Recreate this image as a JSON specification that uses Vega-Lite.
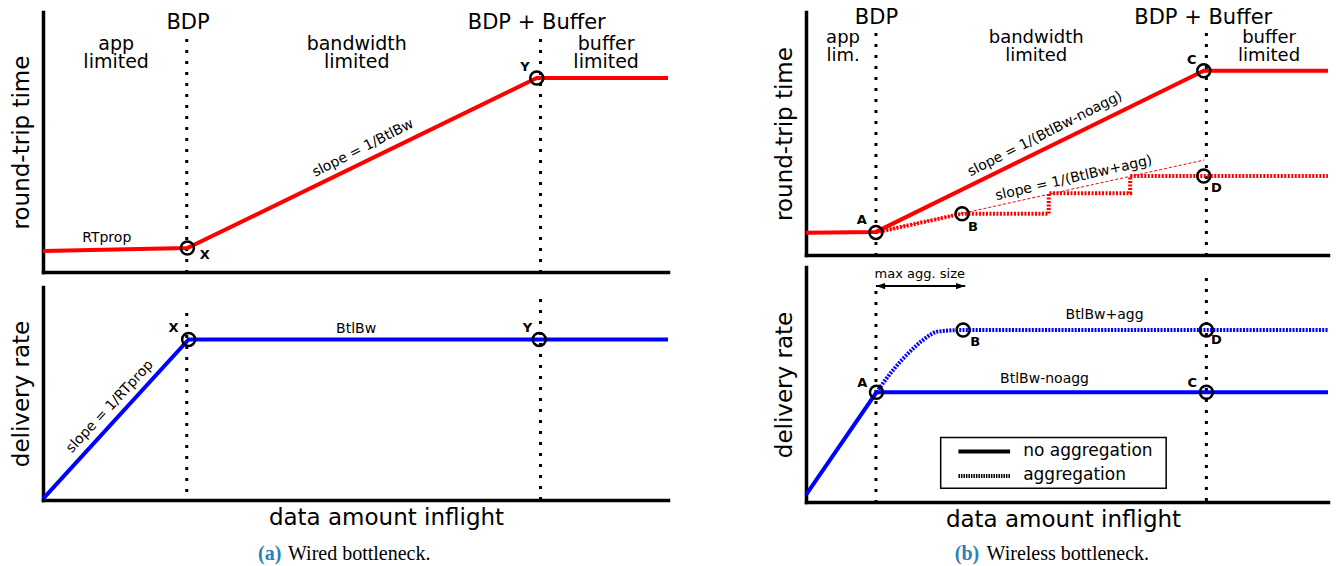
{
  "$schema": "https://vega.github.io/schema/vega-lite/v6.json",
  "padding": {"left": 10, "top": 6, "right": 5, "bottom": 0},
  "background": "white",
  "spacing": 97,
  "config": {
    "view": {"stroke": null},
    "axis": {"domainColor": "black", "domainWidth": 3.5, "domainCap": "square", "ticks": false, "labels": false, "grid": false, "titleFont": "DejaVu Sans", "titleFontSize": 23, "titleFontWeight": "normal", "titleColor": "black"},
    "axisX": {"titlePadding": 6},
    "axisY": {"titlePadding": 10},
    "text": {"font": "DejaVu Sans", "color": "black"}
  },
  "hconcat": [
    {
      "bounds": "flush",
      "spacing": 15,
      "vconcat": [
        {
          "width": 625, "height": 260,
          "encoding": {
            "x": {"field": "x", "type": "quantitative", "scale": {"domain": [0, 100], "nice": false}, "axis": {"title": null}},
            "y": {"field": "y", "type": "quantitative", "scale": {"domain": [0, 100], "nice": false}, "axis": {"title": "round-trip time"}}
          },
          "layer": [
            {"data": {"values": [{"x": 23.0, "y": 89.6, "y2": 0}, {"x": 79.6, "y": 89.6, "y2": 0}]},
             "mark": {"type": "rule", "color": "black", "strokeWidth": 3, "strokeDash": [3, 8]},
             "encoding": {"y2": {"field": "y2"}}},
            {"data": {"values": [{"x": 0, "y": 8.1, "o": 1}, {"x": 23.1, "y": 9.2, "o": 2}, {"x": 79.0, "y": 74.6, "o": 3}, {"x": 100, "y": 74.6, "o": 4}]},
             "mark": {"type": "line", "color": "#ff0000", "strokeWidth": 4},
             "encoding": {"order": {"field": "o"}}},
            {"data": {"values": [{"x": 23.1, "y": 9.2}, {"x": 79.0, "y": 74.6}]},
             "mark": {"type": "point", "shape": "circle", "size": 169, "filled": false, "color": "black", "strokeWidth": 2.5, "opacity": 1}},
            {"data": {"values": [{"x": 25.9, "y": 6.5, "t": "X"}, {"x": 77.1, "y": 79.0, "t": "Y"}]},
             "mark": {"type": "text", "fontWeight": "bold", "fontSize": 13, "baseline": "middle", "align": "center"},
             "encoding": {"text": {"field": "t"}}},
            {"data": {"values": [{"x": 23.2, "y": 93.3, "t": "BDP"}, {"x": 79.0, "y": 93.3, "t": "BDP + Buffer"}]},
             "mark": {"type": "text", "fontSize": 21, "baseline": "alphabetic", "align": "center"},
             "encoding": {"text": {"field": "t"}}},
            {"data": {"values": [{"x": 11.7, "y": 85.4, "t": "app"}, {"x": 11.7, "y": 78.3, "t": "limited"}, {"x": 50.2, "y": 85.4, "t": "bandwidth"}, {"x": 50.2, "y": 78.3, "t": "limited"}, {"x": 90.1, "y": 85.4, "t": "buffer"}, {"x": 90.1, "y": 78.3, "t": "limited"}]},
             "mark": {"type": "text", "fontSize": 19, "baseline": "alphabetic", "align": "center"},
             "encoding": {"text": {"field": "t"}}},
            {"data": {"values": [{"x": 10.2, "y": 13.0, "t": "RTprop"}]},
             "mark": {"type": "text", "fontSize": 14, "baseline": "middle", "align": "center"},
             "encoding": {"text": {"field": "t"}}},
            {"data": {"values": [{"x": 51.2, "y": 47.6, "t": "slope = 1/BtlBw"}]},
             "mark": {"type": "text", "fontSize": 14, "baseline": "middle", "align": "center", "angle": 333},
             "encoding": {"text": {"field": "t"}}}
          ]
        },
        {
          "width": 625, "height": 213,
          "encoding": {
            "x": {"field": "x", "type": "quantitative", "scale": {"domain": [0, 100], "nice": false}, "axis": {"title": "data amount inflight", "titleX": 343}},
            "y": {"field": "y", "type": "quantitative", "scale": {"domain": [0, 100], "nice": false}, "axis": {"title": "delivery rate"}}
          },
          "layer": [
            {"data": {"values": [{"x": 23.0, "y": 87.8, "y2": 0}, {"x": 79.6, "y": 94.4, "y2": 0}]},
             "mark": {"type": "rule", "color": "black", "strokeWidth": 3, "strokeDash": [3, 8]},
             "encoding": {"y2": {"field": "y2"}}},
            {"data": {"values": [{"x": 0, "y": 0.5, "o": 1}, {"x": 23.3, "y": 75.4, "o": 2}, {"x": 100, "y": 75.4, "o": 3}]},
             "mark": {"type": "line", "color": "#0000ff", "strokeWidth": 4},
             "encoding": {"order": {"field": "o"}}},
            {"data": {"values": [{"x": 23.3, "y": 75.4}, {"x": 79.4, "y": 75.4}]},
             "mark": {"type": "point", "shape": "circle", "size": 169, "filled": false, "color": "black", "strokeWidth": 2.5, "opacity": 1}},
            {"data": {"values": [{"x": 20.9, "y": 80.6, "t": "X"}, {"x": 77.5, "y": 80.6, "t": "Y"}]},
             "mark": {"type": "text", "fontWeight": "bold", "fontSize": 13, "baseline": "middle", "align": "center"},
             "encoding": {"text": {"field": "t"}}},
            {"data": {"values": [{"x": 50.1, "y": 80.1, "t": "BtlBw"}]},
             "mark": {"type": "text", "fontSize": 14, "baseline": "middle", "align": "center"},
             "encoding": {"text": {"field": "t"}}},
            {"data": {"values": [{"x": 10.7, "y": 43.8, "t": "slope = 1/RTprop"}]},
             "mark": {"type": "text", "fontSize": 14, "baseline": "middle", "align": "center", "angle": 313},
             "encoding": {"text": {"field": "t"}}},
            {"data": {"values": [{"x": 34.4, "y": -28.2, "t": "(a)"}]},
             "mark": {"type": "text", "font": "Liberation Serif", "fontWeight": "bold", "fontSize": 20, "color": "#2E7FB8", "baseline": "alphabetic", "align": "left"},
             "encoding": {"text": {"field": "t"}}},
            {"data": {"values": [{"x": 39.2, "y": -28.2, "t": "Wired bottleneck."}]},
             "mark": {"type": "text", "font": "Liberation Serif", "fontSize": 20, "color": "black", "baseline": "alphabetic", "align": "left"},
             "encoding": {"text": {"field": "t"}}}
          ]
        }
      ]
    },
    {
      "bounds": "flush",
      "spacing": 12,
      "vconcat": [
        {
          "width": 522, "height": 243,
          "encoding": {
            "x": {"field": "x", "type": "quantitative", "scale": {"domain": [0, 100], "nice": false}, "axis": {"title": null}},
            "y": {"field": "y", "type": "quantitative", "scale": {"domain": [0, 100], "nice": false}, "axis": {"title": "round-trip time"}}
          },
          "layer": [
            {"data": {"values": [{"x": 13.4, "y": 91.4, "y2": 0}, {"x": 76.7, "y": 91.4, "y2": 0}]},
             "mark": {"type": "rule", "color": "black", "strokeWidth": 3, "strokeDash": [3, 8]},
             "encoding": {"y2": {"field": "y2"}}},
            {"data": {"values": [{"x": 13.4, "y": 9.3, "o": 1}, {"x": 76.3, "y": 39.1, "o": 2}]},
             "mark": {"type": "line", "color": "#ff0000", "strokeWidth": 1, "strokeDash": [3, 2]},
             "encoding": {"order": {"field": "o"}}},
            {"data": {"values": [{"x": 13.4, "y": 9.3, "o": 1}, {"x": 29.9, "y": 17.0, "o": 2}, {"x": 46.5, "y": 17.0, "o": 3}, {"x": 46.5, "y": 25.4, "o": 4}, {"x": 62.1, "y": 25.4, "o": 5}, {"x": 62.1, "y": 32.5, "o": 6}, {"x": 100, "y": 32.5, "o": 7}]},
             "mark": {"type": "line", "color": "#ff0000", "strokeWidth": 4, "strokeDash": [2, 1.5]},
             "encoding": {"order": {"field": "o"}}},
            {"data": {"values": [{"x": 0, "y": 9.2, "o": 1}, {"x": 13.4, "y": 9.5, "o": 2}, {"x": 76.2, "y": 75.8, "o": 3}, {"x": 100, "y": 75.8, "o": 4}]},
             "mark": {"type": "line", "color": "#ff0000", "strokeWidth": 4},
             "encoding": {"order": {"field": "o"}}},
            {"data": {"values": [{"x": 13.4, "y": 9.3}, {"x": 29.9, "y": 17.0}, {"x": 76.2, "y": 75.8}, {"x": 76.2, "y": 32.5}]},
             "mark": {"type": "point", "shape": "circle", "size": 169, "filled": false, "color": "black", "strokeWidth": 2.5, "opacity": 1}},
            {"data": {"values": [{"x": 10.7, "y": 14.4, "t": "A"}, {"x": 32.0, "y": 11.7, "t": "B"}, {"x": 73.9, "y": 80.2, "t": "C"}, {"x": 78.6, "y": 27.4, "t": "D"}]},
             "mark": {"type": "text", "fontWeight": "bold", "fontSize": 13, "baseline": "middle", "align": "center"},
             "encoding": {"text": {"field": "t"}}},
            {"data": {"values": [{"x": 13.5, "y": 95.1, "t": "BDP"}, {"x": 76.1, "y": 95.1, "t": "BDP + Buffer"}]},
             "mark": {"type": "text", "fontSize": 21, "baseline": "alphabetic", "align": "center"},
             "encoding": {"text": {"field": "t"}}},
            {"data": {"values": [{"x": 7.1, "y": 87.4, "t": "app"}, {"x": 7.1, "y": 80.0, "t": "lim."}, {"x": 44.1, "y": 87.4, "t": "bandwidth"}, {"x": 44.1, "y": 80.0, "t": "limited"}, {"x": 88.7, "y": 87.4, "t": "buffer"}, {"x": 88.7, "y": 80.0, "t": "limited"}]},
             "mark": {"type": "text", "fontSize": 18, "baseline": "alphabetic", "align": "center"},
             "encoding": {"text": {"field": "t"}}},
            {"data": {"values": [{"x": 45.8, "y": 49.8, "t": "slope = 1/(BtlBw-noagg)"}]},
             "mark": {"type": "text", "fontSize": 14, "baseline": "middle", "align": "center", "angle": 333},
             "encoding": {"text": {"field": "t"}}},
            {"data": {"values": [{"x": 51.3, "y": 31.6, "t": "slope = 1/(BtlBw+agg)"}]},
             "mark": {"type": "text", "fontSize": 14, "baseline": "middle", "align": "center", "angle": 347},
             "encoding": {"text": {"field": "t"}}}
          ]
        },
        {
          "width": 522, "height": 235,
          "encoding": {
            "x": {"field": "x", "type": "quantitative", "scale": {"domain": [0, 100], "nice": false}, "axis": {"title": "data amount inflight", "titleX": 257}},
            "y": {"field": "y", "type": "quantitative", "scale": {"domain": [0, 100], "nice": false}, "axis": {"title": "delivery rate"}}
          },
          "layer": [
            {"data": {"values": [{"x": 13.4, "y": 89.8, "y2": 0}, {"x": 76.7, "y": 95.3, "y2": 0}]},
             "mark": {"type": "rule", "color": "black", "strokeWidth": 3, "strokeDash": [3, 8]},
             "encoding": {"y2": {"field": "y2"}}},
            {"data": {"values": [{"x": 25.8, "x2": 69.0, "y": 27.4, "y2": 5.9}]},
             "mark": {"type": "rect", "fill": "white", "stroke": "black", "strokeWidth": 1.5},
             "encoding": {"x2": {"field": "x2"}, "y2": {"field": "y2"}}},
            {"data": {"values": [{"x": 29.2, "x2": 39.1, "y": 21.5}]},
             "mark": {"type": "rule", "color": "black", "strokeWidth": 4},
             "encoding": {"x2": {"field": "x2"}}},
            {"data": {"values": [{"x": 29.2, "x2": 39.1, "y": 11.1}]},
             "mark": {"type": "rule", "color": "black", "strokeWidth": 4, "strokeDash": [1.5, 1]},
             "encoding": {"x2": {"field": "x2"}}},
            {"data": {"values": [{"x": 41.6, "y": 19.4, "t": "no aggregation"}, {"x": 41.6, "y": 9.4, "t": "aggregation"}]},
             "mark": {"type": "text", "fontSize": 17, "baseline": "alphabetic", "align": "left"},
             "encoding": {"text": {"field": "t"}}},
            {"data": {"values": [{"x": 0, "y": 3.0, "o": 1}, {"x": 13.5, "y": 46.7, "o": 2}, {"x": 100, "y": 46.7, "o": 3}]},
             "mark": {"type": "line", "color": "#0000ff", "strokeWidth": 4},
             "encoding": {"order": {"field": "o"}}},
            {"data": {"values": [{"x": 13.5, "y": 46.7, "o": 1}, {"x": 16.7, "y": 56.2, "o": 2}, {"x": 19.6, "y": 63.3, "o": 3}, {"x": 22.4, "y": 68.9, "o": 4}, {"x": 25.2, "y": 72.5, "o": 5}, {"x": 30.1, "y": 73.2, "o": 6}, {"x": 100, "y": 73.2, "o": 7}]},
             "mark": {"type": "line", "color": "#0000ff", "strokeWidth": 4, "strokeDash": [2, 1.3], "interpolate": "monotone"},
             "encoding": {"order": {"field": "o"}}},
            {"data": {"values": [{"x": 13.5, "y": 46.7}, {"x": 30.1, "y": 73.2}, {"x": 76.7, "y": 73.2}, {"x": 76.7, "y": 46.7}]},
             "mark": {"type": "point", "shape": "circle", "size": 169, "filled": false, "color": "black", "strokeWidth": 2.5, "opacity": 1}},
            {"data": {"values": [{"x": 10.8, "y": 50.5, "t": "A"}, {"x": 32.4, "y": 68.2, "t": "B"}, {"x": 74.0, "y": 50.8, "t": "C"}, {"x": 78.6, "y": 68.9, "t": "D"}]},
             "mark": {"type": "text", "fontWeight": "bold", "fontSize": 13, "baseline": "middle", "align": "center"},
             "encoding": {"text": {"field": "t"}}},
            {"data": {"values": [{"x": 57.2, "y": 79.6, "t": "BtlBw+agg"}, {"x": 45.7, "y": 52.2, "t": "BtlBw-noagg"}]},
             "mark": {"type": "text", "fontSize": 14, "baseline": "middle", "align": "center"},
             "encoding": {"text": {"field": "t"}}},
            {"data": {"values": [{"x": 21.8, "y": 95.2, "t": "max agg. size"}]},
             "mark": {"type": "text", "fontSize": 13, "baseline": "alphabetic", "align": "center"},
             "encoding": {"text": {"field": "t"}}},
            {"data": {"values": [{"x": 13.4, "x2": 30.5, "y": 91.9}]},
             "mark": {"type": "rule", "color": "black", "strokeWidth": 2},
             "encoding": {"x2": {"field": "x2"}}},
            {"data": {"values": [{"x": 29.6, "y": 91.9}]},
             "mark": {"type": "point", "shape": "M1,0L-1,-0.7L-1,0.7Z", "size": 81, "filled": true, "color": "black", "opacity": 1}},
            {"data": {"values": [{"x": 14.3, "y": 91.9}]},
             "mark": {"type": "point", "shape": "M-1,0L1,-0.7L1,0.7Z", "size": 81, "filled": true, "color": "black", "opacity": 1}},
            {"data": {"values": [{"x": 28.5, "y": -24.7, "t": "(b)"}]},
             "mark": {"type": "text", "font": "Liberation Serif", "fontWeight": "bold", "fontSize": 20, "color": "#2E7FB8", "baseline": "alphabetic", "align": "left"},
             "encoding": {"text": {"field": "t"}}},
            {"data": {"values": [{"x": 34.6, "y": -24.7, "t": "Wireless bottleneck."}]},
             "mark": {"type": "text", "font": "Liberation Serif", "fontWeight": "normal", "fontSize": 20, "color": "black", "baseline": "alphabetic", "align": "left"},
             "encoding": {"text": {"field": "t"}}}
          ]
        }
      ]
    }
  ]
}
